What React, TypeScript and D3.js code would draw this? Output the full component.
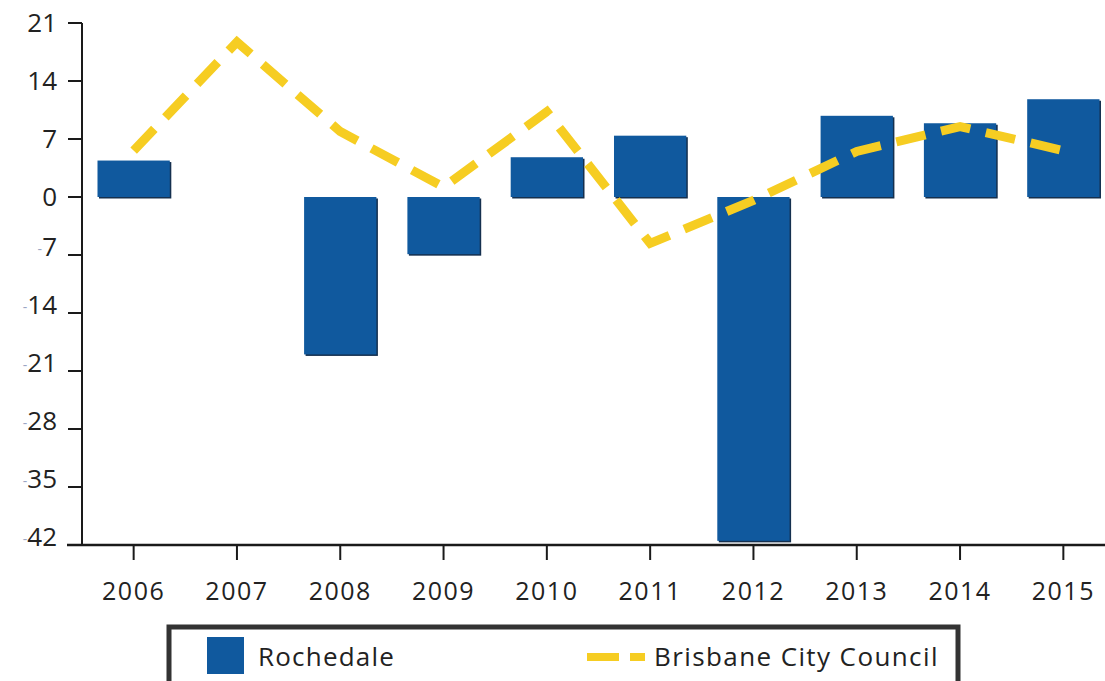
import React, { useEffect, useRef } from 'react';
import * as d3 from 'd3';

// Annual change, Rochedale vs Brisbane City Council
const years = ['2006', '2007', '2008', '2009', '2010', '2011', '2012', '2013', '2014', '2015'];
const rochedale = [4.4, 0, -19.0, -6.9, 4.8, 7.4, -41.5, 9.8, 8.9, 11.8];
const brisbane = [5.6, 18.7, 7.9, 1.2, 10.3, -5.6, -0.4, 5.5, 8.5, 5.6];
const yTicks = [21, 14, 7, 0, -7, -14, -21, -28, -35, -42];

const BAR_COLOR = '#10599e';
const LINE_COLOR = '#f6cd22';
const FONT = '"Open Sans", "DejaVu Sans", sans-serif';

const App = () => {
  const svgRef = useRef<SVGSVGElement>(null);

  const width = 1105;
  const height = 681;
  // plot runs a little past the right edge of the picture
  const margin = { top: 23, right: -10, bottom: 136, left: 82 };

  useEffect(() => {
    if (!svgRef.current) return;

    d3.select(svgRef.current).selectAll('*').remove();

    const svg = d3.select(svgRef.current)
      .attr('width', width)
      .attr('height', height);

    svg.append('rect')
      .attr('width', width)
      .attr('height', height)
      .attr('fill', '#fff');

    const x = d3.scalePoint<string>()
      .domain(years)
      .range([margin.left, width - margin.right])
      .padding(0.5);

    const y = d3.scaleLinear()
      .domain([-42, 21])
      .range([height - margin.bottom, margin.top]);

    const barW = x.step() * 0.7;

    // bars (with a faint dark edge like the original)
    const bars = svg.append('g');
    rochedale.forEach((v, i) => {
      if (v === 0) return;
      const cx = x(years[i])!;
      const y0 = Math.min(y(v), y(0));
      const h = Math.abs(y(v) - y(0));
      bars.append('rect')
        .attr('x', cx - barW / 2 + 1.5)
        .attr('y', y0 + 1.5)
        .attr('width', barW)
        .attr('height', h)
        .attr('fill', '#15304f');
      bars.append('rect')
        .attr('x', cx - barW / 2)
        .attr('y', y0)
        .attr('width', barW)
        .attr('height', h)
        .attr('fill', BAR_COLOR);
    });

    // y axis
    const yAxis = svg.append('g');
    yAxis.append('line')
      .attr('x1', margin.left).attr('x2', margin.left)
      .attr('y1', y(21)).attr('y2', y(-42))
      .attr('stroke', '#1a1a1a').attr('stroke-width', 2);
    yTicks.forEach(t => {
      yAxis.append('line')
        .attr('x1', margin.left - 14).attr('x2', margin.left)
        .attr('y1', y(t)).attr('y2', y(t))
        .attr('stroke', '#1a1a1a').attr('stroke-width', 2);
      const label = yAxis.append('text')
        .attr('x', 57)
        .attr('y', y(t))
        .attr('dy', '0.36em')
        .attr('text-anchor', 'end')
        .attr('font-family', FONT)
        .attr('font-size', 26)
        .attr('fill', '#222');
      if (t < 0) {
        label.append('tspan').attr('fill', '#9aa6c4').attr('font-size', 14).attr('dy', '-0.1em').text('-');
        label.append('tspan').attr('dy', '0.1em').text(String(-t));
      } else {
        label.text(String(t));
      }
    });

    // x axis
    const xAxis = svg.append('g');
    xAxis.append('line')
      .attr('x1', 67).attr('x2', width)
      .attr('y1', y(-42)).attr('y2', y(-42))
      .attr('stroke', '#1a1a1a').attr('stroke-width', 2.5);
    years.forEach(yr => {
      xAxis.append('line')
        .attr('x1', x(yr)!).attr('x2', x(yr)!)
        .attr('y1', y(-42)).attr('y2', y(-42) + 15)
        .attr('stroke', '#1a1a1a').attr('stroke-width', 2);
      xAxis.append('text')
        .attr('x', x(yr)!)
        .attr('y', 600)
        .attr('text-anchor', 'middle')
        .attr('font-family', FONT)
        .attr('font-size', 25)
        .attr('letter-spacing', 1.5)
        .attr('fill', '#222')
        .text(yr);
    });

    // Brisbane line
    const line = d3.line<number>()
      .x((_, i) => x(years[i])!)
      .y(d => y(d));
    svg.append('path')
      .datum(brisbane)
      .attr('d', line)
      .attr('fill', 'none')
      .attr('stroke', LINE_COLOR)
      .attr('stroke-width', 9)
      .attr('stroke-dasharray', '30 16');

    // legend
    const legend = svg.append('g');
    legend.append('rect')
      .attr('x', 169).attr('y', 627)
      .attr('width', 789).attr('height', 80)
      .attr('fill', '#fff')
      .attr('stroke', '#333')
      .attr('stroke-width', 5);
    legend.append('rect')
      .attr('x', 207).attr('y', 637)
      .attr('width', 37).attr('height', 37)
      .attr('fill', BAR_COLOR);
    legend.append('text')
      .attr('x', 258).attr('y', 666)
      .attr('font-family', FONT)
      .attr('font-size', 26)
      .attr('letter-spacing', 1.2)
      .attr('fill', '#222')
      .text('Rochedale');
    legend.append('line')
      .attr('x1', 587).attr('x2', 645)
      .attr('y1', 657).attr('y2', 657)
      .attr('stroke', LINE_COLOR)
      .attr('stroke-width', 8)
      .attr('stroke-dasharray', '32 11');
    legend.append('text')
      .attr('x', 654).attr('y', 666)
      .attr('font-family', FONT)
      .attr('font-size', 26)
      .attr('letter-spacing', 1.4)
      .attr('fill', '#222')
      .text('Brisbane City Council');
  }, []);

  return (
    <svg ref={svgRef} style={{ position: 'absolute', left: 0, top: 0, display: 'block' }}></svg>
  );
};

export default App;
